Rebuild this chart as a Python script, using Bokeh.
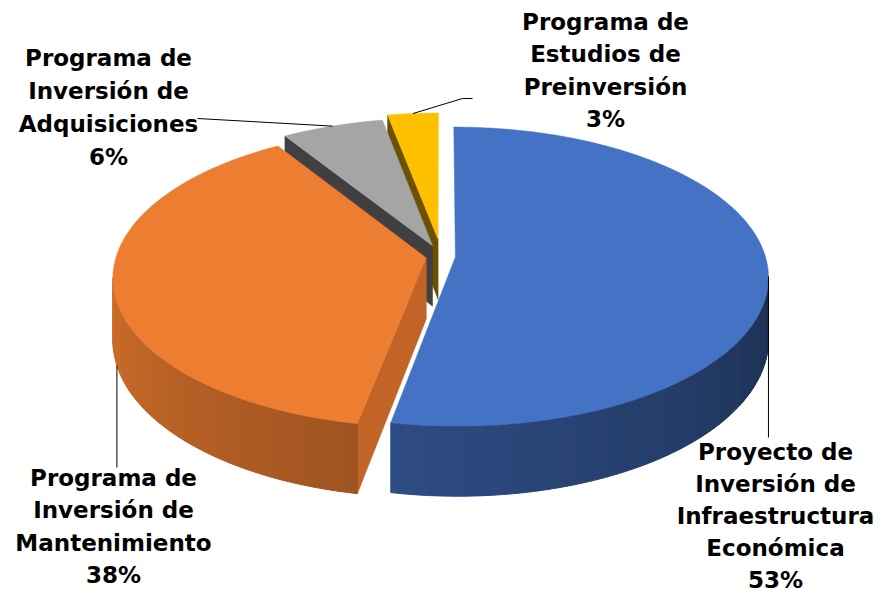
import numpy as np
from bokeh.plotting import figure
from bokeh.models import Range1d
from bokeh.embed import file_html
from bokeh.resources import INLINE
from bokeh.core.properties import value

# ---------------- data ----------------
categories = [
    "Proyecto de\nInversión de\nInfraestructura\nEconómica",
    "Programa de\nInversión de\nMantenimiento",
    "Programa de\nInversión de\nAdquisiciones",
    "Programa de\nEstudios de\nPreinversión",
]
values = [53, 38, 6, 3]

# ---------------- style / layout ----------------
top_colors = ["#4472C4", "#ED7D31", "#A5A5A5", "#FFC000"]
cut_colors = ["#2F5597", "#C26327", "#404040", "#6B5100"]
explode = [0.045, 0.05, 0.08, 0.12]
draw_order = [3, 2, 1, 0]

CX, CY = 441.0, 256.0      # pie centre (screen px)
RX, RY = 310.0, 146.8      # radii
K = 0.13                   # perspective factor
DEPTH = 61.0               # thickness

# label layout: centre x, first line centre y; line spacing per label
label_pos = [(775, 451), (113, 477), (108, 57), (605, 21)]
label_sp = [32.0, 32.5, 33.0, 32.5]
FONT = "DejaVu Sans"

W, H = 882, 597
p = figure(width=W, height=H, output_backend="svg", toolbar_location=None,
           x_range=Range1d(0, W), y_range=Range1d(H, 0),
           min_border=0, x_axis_location=None, y_axis_location=None)
p.grid.visible = False
p.outline_line_color = None
p.background_fill_color = "white"


def proj(u, v, z=0.0):
    w = 1.0 + K * v
    return CX + RX * u / w, CY - RY * v / w + z / w


def shade(hexcol, f):
    h = hexcol.lstrip("#")
    r, g, b = (int(h[i:i + 2], 16) for i in (0, 2, 4))
    return "#%02x%02x%02x" % tuple(int(max(0, min(255, c * f))) for c in (r, g, b))


total = float(sum(values))
fracs = np.array(values, dtype=float) / total
ends = np.cumsum(fracs) * 360.0
starts = ends - fracs * 360.0
mids = (starts + ends) / 2.0

TS1 = np.degrees(np.arccos(-K))
TS2 = 360.0 - TS1


def rim(i, th_deg, z=0.0):
    m = np.radians(mids[i])
    du, dv = explode[i] * np.sin(m), explode[i] * np.cos(m)
    t = np.radians(th_deg)
    return proj(np.sin(t) + du, np.cos(t) + dv, z)


def apex(i, z=0.0):
    m = np.radians(mids[i])
    du, dv = explode[i] * np.sin(m), explode[i] * np.cos(m)
    return proj(du, dv, z)


def wall_factor(th):
    return float(np.clip(0.42 + (th - 100.0) * 0.0028, 0.35, 0.95))


for i in draw_order:
    a, b = starts[i], ends[i]
    # radial cut faces that face the viewer
    faces = []
    if np.sin(np.radians(a)) < -1e-6:
        faces.append(a)
    if np.sin(np.radians(b)) > 1e-6:
        faces.append(b)
    for th in faces:
        ax0, ay0 = apex(i)
        ax1, ay1 = apex(i, DEPTH)
        rx0, ry0 = rim(i, th)
        rx1, ry1 = rim(i, th, DEPTH)
        p.patch([ax0, rx0, rx1, ax1], [ay0, ry0, ry1, ay1],
                fill_color=cut_colors[i], line_color=cut_colors[i], line_width=0.6)
    # outer wall (front part only)
    lo, hi = max(a, TS1), min(b, TS2)
    if hi > lo:
        n = max(2, int((hi - lo) / 1.5))
        ths = np.linspace(lo, hi, n + 1)
        xs, ys, cs = [], [], []
        for t0, t1 in zip(ths[:-1], ths[1:]):
            x0, y0 = rim(i, t0)
            x1, y1 = rim(i, t1)
            x2, y2 = rim(i, t1, DEPTH)
            x3, y3 = rim(i, t0, DEPTH)
            xs.append([x0, x1, x2, x3])
            ys.append([y0, y1, y2, y3])
            cs.append(shade(top_colors[i], wall_factor((t0 + t1) / 2)))
        p.patches(xs, ys, fill_color=cs, line_color=cs, line_width=1)
    # top face
    n = max(4, int((b - a) / 0.75))
    ths = np.linspace(a, b, n + 1)
    pts = [rim(i, t) for t in ths]
    ax0, ay0 = apex(i)
    fx = [ax0] + [q[0] for q in pts]
    fy = [ay0] + [q[1] for q in pts]
    p.patch(fx, fy, fill_color=top_colors[i], line_color=top_colors[i], line_width=0.5)

# ---------------- leader lines ----------------
LC = "black"
# blue: from right silhouette down to label
bx, by = rim(0, TS1)
p.line([bx, bx], [by, label_pos[0][1] - 14], line_color=LC, line_width=1)
# orange: from wall bottom near the left side down to label
ox, oy = rim(1, mids[1] - 6, DEPTH)
p.line([ox, ox], [oy, label_pos[1][1] - 10], line_color=LC, line_width=1)
# gray: from rim at mid angle to label
gx, gy = rim(2, mids[2])
p.line([gx, 197], [gy, 118], line_color=LC, line_width=1)
# yellow
yx, yy = rim(3, mids[3])
p.line([yx, 462, 472], [yy, 98, 98], line_color=LC, line_width=1)

# ---------------- labels ----------------
lx, ly, lt = [], [], []
for i, cat in enumerate(categories):
    pct = "%d%%" % round(values[i] / total * 100)
    lines = cat.split("\n") + [pct]
    x0, y0 = label_pos[i]
    for j, s in enumerate(lines):
        lx.append(x0)
        ly.append(y0 + j * label_sp[i])
        lt.append(s)
p.text(x=lx, y=ly, text=lt, text_font=value(FONT), text_font_style="bold",
       text_font_size="23px", text_align="center", text_baseline="middle",
       text_color="black")

open("out.html", "w").write(file_html(p, INLINE))
